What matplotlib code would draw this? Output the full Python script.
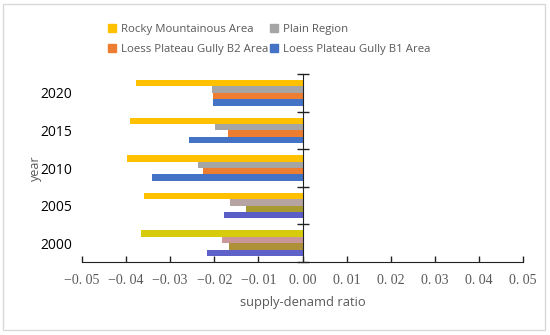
import numpy as np
import matplotlib.pyplot as plt
from matplotlib.patches import Rectangle

years = ['2000', '2005', '2010', '2015', '2020']
series = ['Rocky Mountainous Area', 'Plain Region',
          'Loess Plateau Gully B2 Area', 'Loess Plateau Gully B1 Area']
rocky = [-0.0366, -0.0359, -0.0398, -0.0391, -0.0377]
plain = [-0.0182, -0.0164, -0.0236, -0.0198, -0.0205]
b2 = [-0.0166, -0.0127, -0.0225, -0.0168, -0.0202]
b1 = [-0.0216, -0.0177, -0.0341, -0.0257, -0.0202]
xticks = [-0.05, -0.04, -0.03, -0.02, -0.01, 0.0, 0.01, 0.02, 0.03, 0.04, 0.05]
xlabels = ['\u22120. 05', '\u22120. 04', '\u22120. 03', '\u22120. 02', '\u22120. 01',
           '0. 00', '0. 01', '0. 02', '0. 03', '0. 04', '0. 05']

# legend colours, then per-year colours (the lower groups look tinted in the source)
base = ['#FFC000', '#A5A5A5', '#ED7D31', '#4472C4']
bar_colors = [
    ['#D6CC0C', '#C9969A', '#AD9038', '#5E62C8'],
    ['#FFC000', '#B5A4A2', '#A89A30', '#5A5CC8'],
    base, base, base,
]

grey = '#595959'
plt.rcParams['font.family'] = ['Open Sans', 'DejaVu Sans']

fig = plt.figure(figsize=(5.5, 3.35), dpi=100)
ax = fig.add_axes([0.149, 0.218, 0.802, 0.561])

y = np.arange(len(years))
h = 0.17
vals = [rocky, plain, b2, b1]
offs = [1.5 * h, 0.5 * h, -0.5 * h, -1.5 * h]
for k in range(4):
    cols = [bar_colors[i][k] for i in range(len(years))]
    ax.barh(y + offs[k], vals[k], height=h, color=cols, label=series[k])

ax.set_xlim(-0.05, 0.05)
ax.set_ylim(-0.5, 4.5)
ax.set_xticks(xticks)
ax.set_xticklabels(xlabels, family=['Liberation Serif', 'DejaVu Serif'], fontsize=10, color=grey)
ax.set_yticks(y)
ax.set_yticklabels(years, fontsize=8.2, color=grey)
ax.set_yticks(np.arange(len(years) + 1) - 0.5, minor=True)

for s in ['top', 'left']:
    ax.spines[s].set_visible(False)
ax.spines['right'].set_position(('data', 0))
ax.spines['right'].set_color('#222222')
ax.spines['bottom'].set_color('#222222')
ax.tick_params(axis='y', which='major', left=False, right=False, length=0, pad=7)
ax.tick_params(axis='y', which='minor', left=False, right=True, direction='inout',
               length=9, width=1, color='#222222')
ax.tick_params(axis='x', direction='in', length=4, width=1, color='#222222', pad=9)

ax.set_xlabel('supply-denamd ratio', fontsize=9.3, color=grey, labelpad=6)
ax.set_ylabel('year', fontsize=9, color=grey, labelpad=-1)

handles = [Rectangle((0, 0), 1, 1, color=c) for c in base]
order = [0, 2, 1, 3]
fig.legend([handles[i] for i in order], [series[i] for i in order],
           ncol=2, loc='upper left', bbox_to_anchor=(0.178, 0.96), frameon=False,
           fontsize=8.2, handlelength=0.7, handleheight=0.7, handletextpad=0.4,
           columnspacing=0.2, labelspacing=0.85, labelcolor=grey)

fig.patches.append(Rectangle((0.006, 0.015), 0.985, 0.972, transform=fig.transFigure,
                             fill=False, edgecolor='#D9D9D9', lw=1))

fig.savefig('out.png', dpi=100)
